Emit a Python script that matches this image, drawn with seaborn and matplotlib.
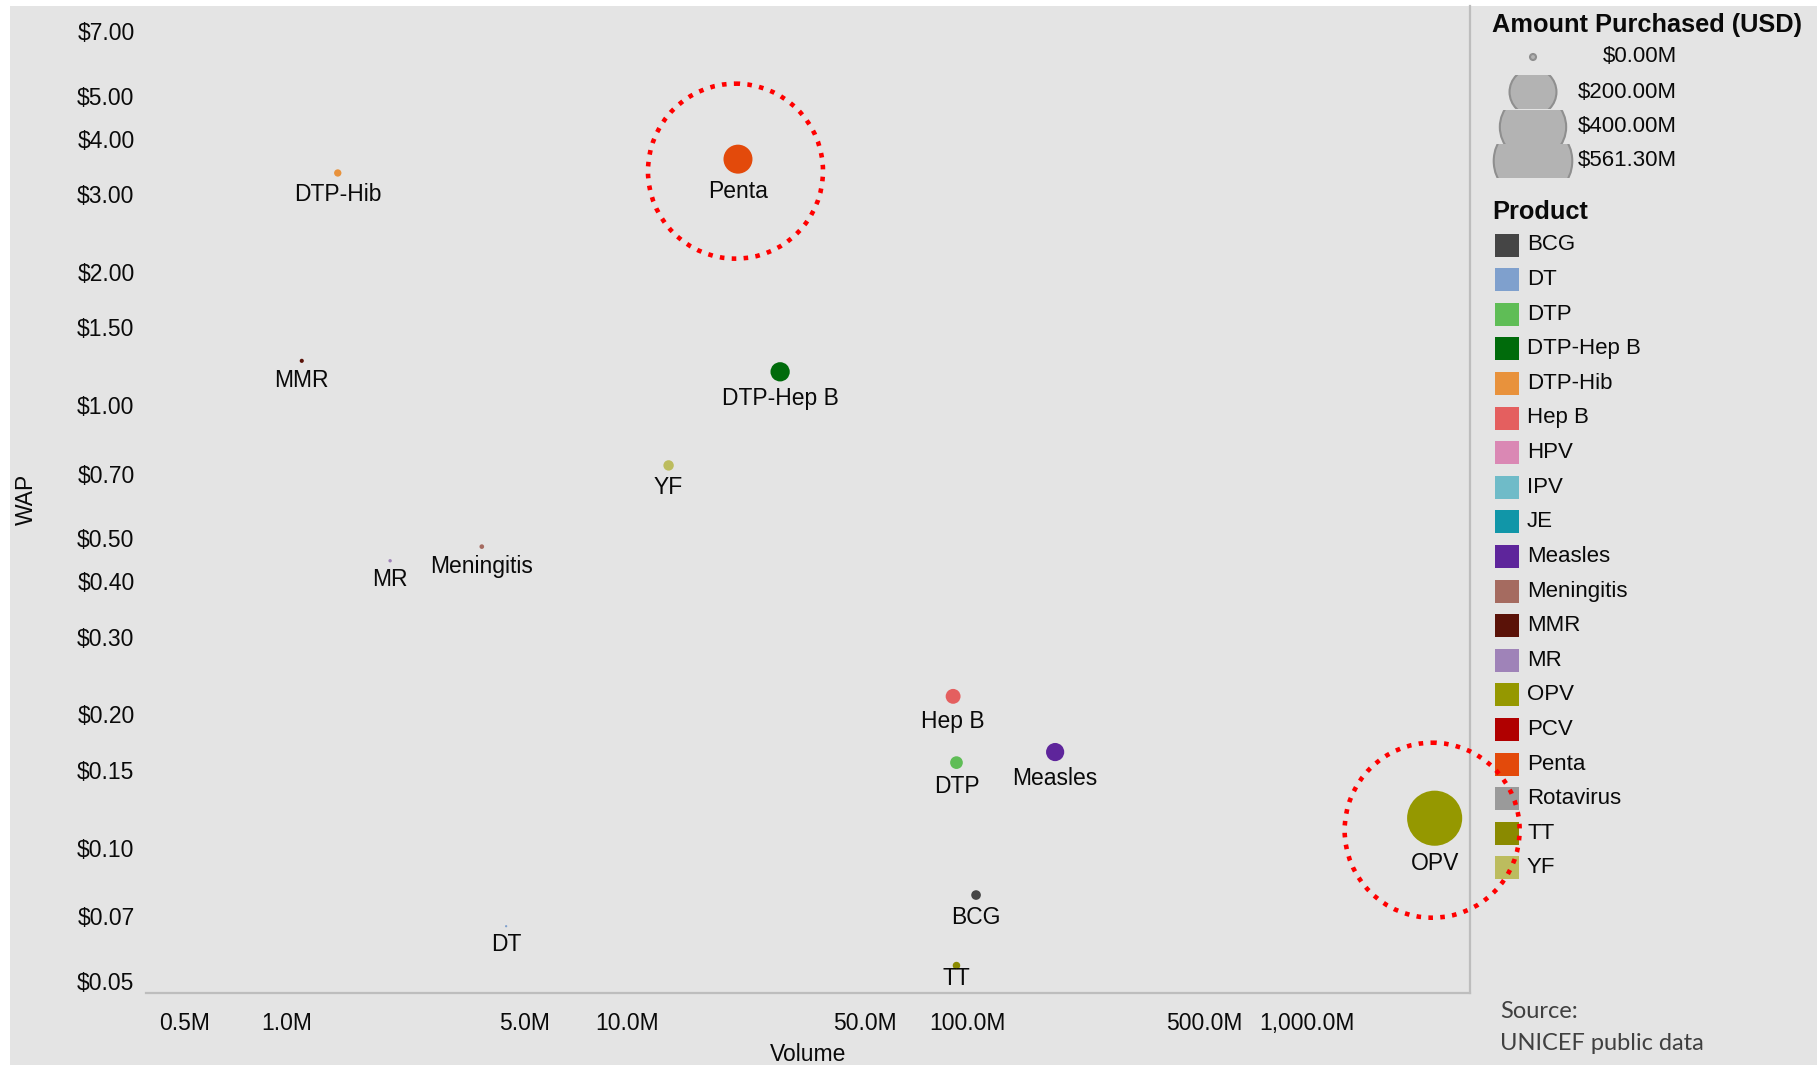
import numpy as np
import pandas as pd
import matplotlib
matplotlib.use("Agg")
import matplotlib.pyplot as plt
import seaborn as sns
from matplotlib.patches import Circle, Rectangle
from matplotlib.ticker import FixedLocator, FixedFormatter, NullFormatter

# ---------------- data ----------------
products = ["BCG", "DT", "DTP", "DTP-Hep B", "DTP-Hib", "Hep B", "HPV", "IPV", "JE",
            "Measles", "Meningitis", "MMR", "MR", "OPV", "PCV", "Penta", "Rotavirus",
            "TT", "YF"]
product_colors = ["#454545", "#7fa0cd", "#5fbd56", "#006b0b", "#e8923c", "#e45f5f",
                  "#da88b4", "#6fbbc8", "#1196a8", "#5e259b", "#a56b60", "#5a1208",
                  "#9f83b8", "#959800", "#b00000", "#e34a0b", "#9a9a9a", "#8a8a00",
                  "#bcbc5e"]

plotted = ["BCG", "DT", "DTP", "DTP-Hep B", "DTP-Hib", "Hep B", "Measles",
           "Meningitis", "MMR", "MR", "OPV", "Penta", "TT", "YF"]
volume_m = [106.3, 4.41, 93.1, 28.2, 1.41, 91.0, 181.6, 3.74, 1.105, 2.01, 2373.0,
            21.2, 93.1, 13.25]
wap_usd = [0.0781, 0.0664, 0.1556, 1.19, 3.35, 0.2197, 0.1644, 0.479, 1.26, 0.445,
           0.1165, 3.60, 0.0541, 0.731]
amount_m = [8.3, 0.29, 14.5, 33.6, 4.72, 20.0, 29.9, 1.79, 1.39, 0.89, 276.0, 76.3,
            5.0, 9.69]
highlighted = ["Penta", "OPV"]

x_ticks = [0.5, 1, 5, 10, 50, 100, 500, 1000]
x_tick_labels = ["0.5M", "1.0M", "5.0M", "10.0M", "50.0M", "100.0M", "500.0M", "1,000.0M"]
x_minor = [2, 3, 4, 6, 7, 8, 9, 20, 30, 40, 60, 70, 80, 90, 200, 300, 400, 600, 700,
           800, 900, 2000]
y_ticks = [7, 5, 4, 3, 2, 1.5, 1, 0.7, 0.5, 0.4, 0.3, 0.2, 0.15, 0.1, 0.07, 0.05]
y_tick_labels = ["$7.00", "$5.00", "$4.00", "$3.00", "$2.00", "$1.50", "$1.00", "$0.70",
                 "$0.50", "$0.40", "$0.30", "$0.20", "$0.15", "$0.10", "$0.07", "$0.05"]
y_minor = [6, 0.9, 0.8, 0.6, 0.09, 0.08, 0.06]

size_legend_values = [0.0, 200.0, 400.0, 561.3]
size_legend_labels = ["$0.00M", "$200.00M", "$400.00M", "$561.30M"]

# ---------------- style ----------------
sns.set_theme(style="white")
plt.rcParams["font.family"] = ["Liberation Sans", "DejaVu Sans"]
plt.rcParams["text.parse_math"] = False

W, H, DPI = 1820, 1065, 100
BG = "#e4e4e4"
SPINE = "#bdbdbd"
TXT = "#0a0a0a"
FS = 16.5
SIZE_MIN, SIZE_MAX = 1.0, 3200.0
SIZE_NORM = (0.0, 561.3)

fig = plt.figure(figsize=(W / DPI, H / DPI), dpi=DPI)
fig.patch.set_facecolor("white")
fig.add_artist(Rectangle((10 / W, 0), 1807 / W, 1059 / H, transform=fig.transFigure,
                         facecolor=BG, edgecolor="none", zorder=-10))

ax_l, ax_r, ax_t, ax_b = 146, 1470, 6, 993
ax = fig.add_axes([ax_l / W, (H - ax_b) / H, (ax_r - ax_l) / W, (ax_b - ax_t) / H])
ax.set_facecolor("none")

df = pd.DataFrame({"Product": plotted, "Volume": volume_m, "WAP": wap_usd,
                   "Amount": amount_m})
palette = dict(zip(products, product_colors))

sns.scatterplot(data=df, x="Volume", y="WAP", hue="Product", palette=palette,
                size="Amount", sizes=(SIZE_MIN, SIZE_MAX), size_norm=SIZE_NORM,
                linewidth=0, alpha=1, legend=False, ax=ax, zorder=3)

ax.set_xscale("log")
ax.set_yscale("log")
ax.set_xlim(0.3848, 3015)
ax.set_ylim(0.0469, 7.99)

ax.xaxis.set_major_locator(FixedLocator(x_ticks))
ax.xaxis.set_major_formatter(FixedFormatter(x_tick_labels))
ax.xaxis.set_minor_locator(FixedLocator(x_minor))
ax.xaxis.set_minor_formatter(NullFormatter())
ax.yaxis.set_major_locator(FixedLocator(y_ticks))
ax.yaxis.set_major_formatter(FixedFormatter(y_tick_labels))
ax.yaxis.set_minor_locator(FixedLocator(y_minor))
ax.yaxis.set_minor_formatter(NullFormatter())

for s in ["left", "top"]:
    ax.spines[s].set_visible(False)
for s in ["bottom", "right"]:
    ax.spines[s].set_color(SPINE)
    ax.spines[s].set_linewidth(1.6)

ax.tick_params(axis="x", which="major", length=5.5, width=1, color="#b5b5b5",
               pad=8.5, labelsize=FS, labelcolor=TXT)
ax.tick_params(axis="x", which="minor", length=3, width=1, color="#c4c4c4")
ax.tick_params(axis="y", which="major", length=4.3, width=1, color="#b5b5b5",
               pad=4, labelsize=FS, labelcolor=TXT)
ax.tick_params(axis="y", which="minor", length=2, width=1, color="#c4c4c4")

ax.set_xlabel("Volume", fontsize=FS, color=TXT)
ax.xaxis.set_label_coords(0.5, -0.0505)
ax.set_ylabel("WAP", fontsize=FS, color=TXT)
ax.yaxis.set_label_coords(-0.0818, 0.5)


def size_of(amount):
    return SIZE_MIN + (SIZE_MAX - SIZE_MIN) * (amount - SIZE_NORM[0]) / (SIZE_NORM[1] - SIZE_NORM[0])


label_gap_pt = {"TT": 6.5}
for name, v, p, a in zip(plotted, volume_m, wap_usd, amount_m):
    r_pt = np.sqrt(size_of(a)) / 2
    gap = label_gap_pt.get(name, 12.5)
    ax.annotate(name, (v, p), xytext=(0, -(r_pt + gap)), textcoords="offset points",
                ha="center", va="center", fontsize=FS, color=TXT, zorder=4)

# ---------------- overlay (pixel coords, top-down) ----------------
ov = fig.add_axes([0, 0, 1, 1], zorder=5)
ov.set_xlim(0, W)
ov.set_ylim(H, 0)
ov.axis("off")
ov.patch.set_alpha(0)

# size legend
ov.text(1492, 25, "Amount Purchased (USD)", fontsize=18.3, fontweight="bold",
        color=TXT, va="center", ha="left")
size_rows = [57, 92, 127, 161]
for val, lab, cy in zip(size_legend_values, size_legend_labels, size_rows):
    d_px = max(np.sqrt(size_of(val)) * DPI / 72, 6)
    c = Circle((1533, cy), d_px / 2, facecolor="#b3b3b3", edgecolor="#8f8f8f", lw=1.5)
    ov.add_patch(c)
    clip = Rectangle((1480, cy - 17.3), 120, 34.6, transform=ov.transData)
    c.set_clip_path(clip)
    ov.text(1677, cy, lab, fontsize=16, color=TXT, ha="right", va="center")

# product legend
ov.text(1492, 212, "Product", fontsize=18.3, fontweight="bold", color=TXT,
        va="center", ha="left")
for i, (name, col) in enumerate(zip(products, product_colors)):
    cy = 245 + i * 34.6
    ov.add_patch(Rectangle((1495, cy - 11.5), 24, 23, facecolor=col, edgecolor="none"))
    ov.text(1527, cy, name, fontsize=16, color=TXT, ha="left", va="center")

# source
ov.text(1500, 1012, "Source:", fontsize=17, color="#404040", ha="left", va="center",
        family=["Lato", "DejaVu Sans"])
ov.text(1500, 1043, "UNICEF public data", fontsize=17, color="#404040", ha="left",
        va="center", family=["Lato", "DejaVu Sans"])

# red dotted highlight circles around selected products
for name in highlighted:
    i = plotted.index(name)
    xd, yd = ax.transData.transform((volume_m[i], wap_usd[i]))
    cx, cy = xd - 2.5, (H - yd) + 12
    ov.add_patch(Circle((cx, cy), 87.5, facecolor="none", edgecolor="#ff0000",
                        lw=3.3, linestyle=(0, (1, 1.6)), zorder=10))

fig.savefig("out.png", dpi=DPI, facecolor=fig.get_facecolor())
